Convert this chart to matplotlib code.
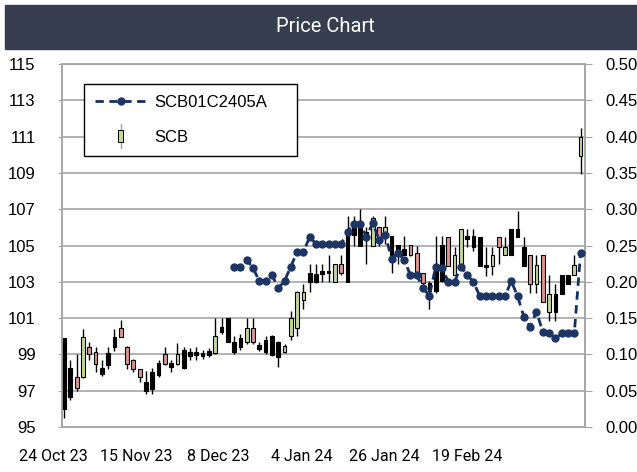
import numpy as np
import matplotlib
matplotlib.use("Agg")
import matplotlib.pyplot as plt
from matplotlib.patches import Rectangle
from matplotlib.lines import Line2D
from matplotlib.legend_handler import HandlerBase
from matplotlib.ticker import FormatStrFormatter

# daily candles, SCB share price (left axis)
kinds = ["k", "k", "r", "g", "r", "r", "k", "k", "k", "r",
         "r", "r", "r", "k", "k", "k", "r", "k", "g", "k",
         "k", "k", "k", "k", "g", "k", "k", "k", "k", "g",
         "r", "k", "k", "k", "k", "g", "g", "g", "g", "k",
         "k", "k", "k", "g", "r", "k", "k", "k", "k", "g",
         "r", "g", "k", "k", "k", "r", "r", "r", "k", "k",
         "k", "r", "g", "g", "k", "k", "k", "k", "g", "r",
         "g", "k", "k", "k", "r", "g", "r", "g", "k", "k",
         "k", "g", "g"]
opens = [99.9, 98.25, 97.75, 97.75, 99.4, 99.15, 98.25, 99.1, 99.95, 100.45,
         99.4, 98.7, 98.2, 97.5, 98.05, 98.5, 99.0, 98.5, 98.45, 99.25,
         99.15, 99.15, 99.1, 99.2, 99.1, 100.5, 101.0, 99.7, 99.9, 99.7,
         100.45, 99.5, 99.8, 100.0, 99.7, 99.15, 100.0, 100.45, 102.0, 103.5,
         103.45, 103.6, 103.6, 103.0, 104.0, 105.75, 106.0, 106.0, 105.75, 105.0,
         106.0, 105.55, 105.55, 105.0, 104.8, 105.0, 104.6, 103.5, 102.95, 104.0,
         105.0, 105.45, 103.35, 103.95, 105.5, 105.5, 105.45, 103.9, 103.85, 105.45,
         104.45, 105.9, 105.9, 104.9, 104.45, 102.9, 104.45, 101.35, 102.35, 103.35,
         103.35, 103.35, 109.95]
closes = [96.0, 96.65, 97.15, 99.95, 99.0, 98.45, 97.9, 98.4, 99.4, 99.95,
          98.45, 98.2, 97.75, 97.0, 97.1, 97.85, 98.45, 98.3, 99.0, 98.25,
          98.9, 98.95, 98.9, 98.95, 100.0, 100.25, 99.7, 99.15, 99.4, 100.45,
          99.7, 99.3, 99.15, 98.95, 98.85, 99.45, 101.0, 102.45, 102.45, 103.0,
          103.0, 103.45, 103.5, 104.0, 103.5, 103.0, 105.6, 105.0, 105.55, 106.5,
          105.35, 106.0, 104.5, 104.5, 104.5, 104.5, 103.5, 102.95, 102.5, 102.5,
          103.05, 103.85, 104.45, 105.9, 105.35, 104.9, 103.85, 103.8, 104.45, 104.9,
          104.9, 104.45, 105.45, 103.85, 102.9, 103.9, 101.9, 102.35, 101.35, 102.35,
          102.9, 103.9, 111.0]
highs = [99.9, 98.7, 99.0, 100.4, 99.7, 99.4, 98.7, 99.4, 100.4, 100.9,
         99.45, 98.75, 98.2, 98.1, 98.25, 98.7, 99.4, 98.7, 99.65, 99.4,
         99.35, 99.4, 99.25, 99.35, 101.0, 101.0, 101.0, 100.0, 100.1, 101.0,
         101.0, 99.7, 100.0, 100.05, 99.75, 99.6, 101.4, 102.5, 102.9, 104.0,
         104.0, 104.0, 104.5, 104.0, 104.5, 106.6, 106.6, 107.0, 106.0, 106.6,
         106.0, 106.6, 105.55, 105.0, 105.55, 105.0, 105.0, 103.5, 103.05, 105.55,
         105.55, 105.45, 104.9, 105.9, 105.9, 105.9, 105.45, 104.9, 104.9, 105.45,
         105.45, 105.9, 106.9, 105.45, 104.45, 104.45, 104.45, 103.35, 102.9, 103.35,
         103.35, 104.45, 111.45]
lows = [95.5, 96.5, 97.0, 97.7, 98.7, 98.05, 97.8, 98.2, 99.2, 99.95,
        98.2, 98.05, 97.5, 96.8, 96.8, 97.75, 98.4, 98.05, 98.4, 98.2,
        98.7, 98.7, 98.75, 98.85, 99.0, 100.1, 99.7, 99.0, 99.25, 99.6,
        99.6, 99.2, 99.0, 98.9, 98.3, 99.05, 99.8, 100.0, 101.5, 102.45,
        102.95, 103.0, 103.0, 103.0, 103.4, 103.0, 105.0, 105.0, 104.0, 104.95,
        105.0, 105.1, 103.5, 104.0, 104.5, 104.4, 103.3, 102.5, 101.5, 102.4,
        103.0, 103.85, 103.35, 103.85, 104.9, 104.7, 103.85, 103.3, 103.35, 104.0,
        104.45, 104.45, 105.45, 103.85, 102.4, 102.4, 101.9, 100.85, 100.85, 102.35,
        102.9, 103.35, 108.95]

# SCB01C2405A (right axis), starts at candle 27
yield_start = 27
yields = [0.221, 0.220, 0.230, 0.219, 0.201, 0.201, 0.210, 0.191, 0.201, 0.221,
          0.241, 0.241, 0.262, 0.252, 0.252, 0.252, 0.252, 0.252, 0.269, 0.280,
          0.280, 0.262, 0.281, 0.258, 0.264, 0.232, 0.240, 0.230, 0.209, 0.209,
          0.191, 0.181, 0.221, 0.219, 0.200, 0.200, 0.221, 0.209, 0.200, 0.180,
          0.180, 0.180, 0.180, 0.180, 0.201, 0.180, 0.152, 0.138, 0.159, 0.131,
          0.129, 0.122, 0.129, 0.129, 0.129, 0.240]

date_labels = ["24 Oct 23", "15 Nov 23", "8 Dec 23", "4 Jan 24", "26 Jan 24", "19 Feb 24"]

GREEN = "#c4d79b"
RED = "#da9694"
NAVY = "#132f60"
GRID = "#a6a6a6"
COND = ["Roboto", "DejaVu Sans"]
SANS = ["Liberation Sans", "DejaVu Sans"]

fig = plt.figure(figsize=(6.37, 4.72), dpi=100)
fig.patch.set_facecolor("white")

# title bar
fig.patches.append(Rectangle((5 / 637, 1 - 49 / 472), 632 / 637, 44 / 472,
                             transform=fig.transFigure, color="#353d4f", zorder=0))
fig.text(325 / 637, 1 - 27 / 472, "Price Chart", color="white", fontsize=14.5,
         ha="center", va="center", family=COND)

ax = fig.add_axes([62 / 637, 45 / 472, 523 / 637, 363 / 472])
x = np.arange(len(opens))
o = np.array(opens)
c = np.array(closes)
fc = [{"g": GREEN, "r": RED, "k": "black"}[k] for k in kinds]

ax.vlines(x, lows, highs, color="black", lw=1, zorder=3)
ax.bar(x, np.abs(c - o), bottom=np.minimum(o, c), width=0.6, color=fc,
       edgecolor="black", lw=0.8, zorder=4)

ax.set_ylim(95, 115)
ax.set_yticks(np.arange(95, 116, 2))
ax.grid(axis="y", color=GRID, lw=1.2, zorder=0)
ax.set_axisbelow(True)

# date labels every ~13 candles, same spacing as the source chart;
# the first one sits left of the plot so they are plain texts, not ticks
ax.set_xticks([])
tick_pos = -1.75 + 13.15 * np.arange(len(date_labels))
for pos, lab in zip(tick_pos, date_labels):
    ax.text(pos, -0.094, lab, transform=ax.get_xaxis_transform(), ha="center",
            va="baseline", family=COND, fontsize=11.5, clip_on=False)

ax.tick_params(axis="y", length=3, color=GRID, labelsize=12, pad=16)
for lab in ax.get_yticklabels():
    lab.set_family(SANS)
for s in ax.spines.values():
    s.set_color(GRID)
    s.set_linewidth(1.2)

ax2 = ax.twinx()
yx = np.arange(yield_start, yield_start + len(yields))
ax2.plot(yx, yields, ls=(0, (3, 2)), lw=2, color=NAVY, marker="o",
         markersize=5, markerfacecolor="#1c3564", markeredgecolor="#1c3564", zorder=5)
ax2.set_ylim(0, 0.5)
ax2.set_yticks(np.arange(0, 0.51, 0.05))
ax2.yaxis.set_major_formatter(FormatStrFormatter("%.2f"))
ax2.tick_params(axis="y", length=5, color=GRID, labelsize=12, pad=10)
for lab in ax2.get_yticklabels():
    lab.set_family(SANS)
for s in ax2.spines.values():
    s.set_color(GRID)
    s.set_linewidth(1.2)

# set after the twin plot, which would otherwise rescale the shared x axis
ax.set_xlim(-0.32, 82.7)
ax2.set_xlim(-0.32, 82.7)


class CandleKey:
    pass


class CandleHandler(HandlerBase):
    def create_artists(self, legend, orig_handle, xd, yd, width, height, fontsize, trans):
        cx = -xd + width / 2
        y0 = -yd
        wick = Line2D([cx, cx], [y0 - 0.55 * height, y0 + 1.55 * height],
                      color="#a0a0a0", lw=1, transform=trans)
        body = Rectangle((cx - 1.8, y0 - 0.05 * height), 3.6, 1.1 * height,
                         facecolor=GREEN, edgecolor="black", lw=0.7, transform=trans)
        return [wick, body]


line_key = Line2D([], [], ls=(0, (3, 2)), lw=2, color=NAVY, marker="o",
                  markersize=5, markerfacecolor="#1c3564", markeredgecolor="#1c3564")
leg = ax2.legend([line_key, CandleKey()], ["SCB01C2405A", "SCB"],
                 handler_map={CandleKey: CandleHandler()},
                 loc="upper left", bbox_to_anchor=(0.042, 0.744, 0.407, 0.201),
                 mode="expand", borderaxespad=0, fancybox=False, framealpha=1,
                 edgecolor="black", handlelength=3.1, handletextpad=0.45,
                 borderpad=0.65, labelspacing=1.2, numpoints=1,
                 prop={"family": SANS, "size": 12})
leg.get_frame().set_linewidth(1.0)

fig.savefig("out.png", dpi=100)
